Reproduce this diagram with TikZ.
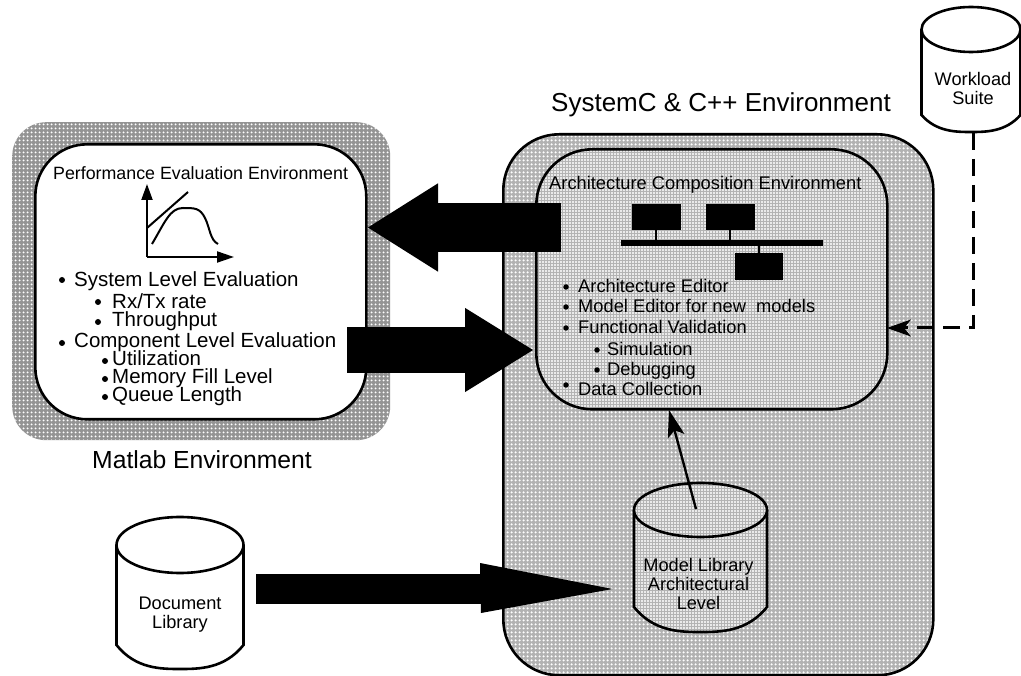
\documentclass[tikz,border=0pt]{standalone}
\usepackage{fontspec}
\setmainfont{Liberation Sans}
\usetikzlibrary{arrows.meta,patterns.meta}
\definecolor{graydark}{gray}{0.58}
\definecolor{graylight}{gray}{0.7}
\newcommand{\fs}[1]{\fontsize{#1}{#1}\selectfont}
\tikzset{
  px/.style={x=1pt,y=-1pt},
  outline/.style={draw=black,line width=2.6pt},
  texdark/.style={preaction={fill=graydark},pattern={Dots[distance=4pt,radius=1.25pt]},pattern color=white},
  texcoarse/.style={preaction={fill=graylight},pattern={Dots[distance=4pt,radius=1.5pt]},pattern color=white},
  texfine/.style={preaction={fill=graylight},pattern={Dots[distance=3pt,radius=1.2pt]},pattern color=white},
  plain/.style={fill=white},
  envbox/.style={outline,rounded corners=#1,inner sep=0pt,anchor=north west},
  chip/.style={fill=black,inner sep=0pt,anchor=north west,minimum width=48.5pt,minimum height=26.5pt},
  thinline/.style={line width=2pt},
  item/.style={inner sep=0pt,anchor=base west,font=\fs{20.5}},
  itemb/.style={inner sep=0pt,anchor=base west,font=\fs{18.3}},
  title/.style={inner sep=0pt,anchor=base west},
  dotb/.style={circle,fill=black,inner sep=0pt,minimum size=#1},
  cyllabel/.style={inner sep=0pt,align=center,font=\fs{18.2}},
}
% name, cx, top, rx, ry, side bottom, body bottom, fill style
\newcommand{\cyl}[8]{%
  \path[outline,#8] (#2-#4,#3+#5) -- (#2-#4,#6)
    .. controls (#2-#4+0.3*#4,#7-0.1) and (#2-0.3*#4,#7) .. (#2,#7)
    .. controls (#2+0.3*#4,#7) and (#2+#4-0.3*#4,#7-0.1) .. (#2+#4,#6) -- (#2+#4,#3+#5);
  \path[outline,#8] (#2,#3+#5) ellipse [x radius=#4,y radius=#5];
  \node[inner sep=0pt] (#1) at (#2,#3+#5) {};
}
\begin{document}
\begin{tikzpicture}[px]
\useasboundingbox (0,0) rectangle (1021,676);
\fill[white] (0,0) rectangle (1021,676);

% Matlab environment
\node[texdark,rounded corners=34pt,inner sep=0pt,anchor=north west,minimum width=378pt,minimum height=318pt] (matlab) at (12,122) {};
\node[envbox=52pt,fill=white,minimum width=331pt,minimum height=275pt] (perf) at (34,143) {};

% SystemC environment
\node[envbox=56pt,texcoarse,minimum width=430pt,minimum height=541pt] (sysc) at (502,133) {};
\node[envbox=56pt,texfine,minimum width=351pt,minimum height=260pt] (arch) at (535,148) {};

% titles
\node[title,font=\fs{17.8}] (perft) at (53,180) {Performance Evaluation Environment};
\node[title,font=\fs{18.3}] (archt) at (549,190) {Architecture Composition Environment};
\node[title,font=\fs{26}] (systitle) at (551,112) {SystemC \& C++ Environment};
\node[title,font=\fs{24.7}] (mattitle) at (92,468) {Matlab Environment};

% chart
\coordinate (ao) at (147,257);
\coordinate (ay) at (147,184);
\coordinate (ax) at (234,257);
\coordinate (l1) at (147,228);
\coordinate (l2) at (188,192);
\draw[line width=2pt,-{Triangle[length=16pt,width=11pt]}] (ao) -- (ay);
\draw[line width=2pt,-{Triangle[length=17pt,width=11pt]}] (ao) -- (ax);
\draw[line width=2pt] (l1) -- (l2);
\draw[line width=2pt] (152,244) .. controls (165,222) and (170,208) .. (183,208)
  .. controls (195,208) and (200,208) .. (205,218)
  .. controls (210,228) and (210,240) .. (218,244);

% left list
\foreach \nm/\bx/\tx/\by/\bl/\txt in {
  a/62/74/280/287/System Level Evaluation,
  b/98/112/302/309/Rx\slash Tx rate,
  c/98/112/322/327/Throughput,
  d/62/74/343/348/Component Level Evaluation,
  e/105/112/361/366/Utilization,
  f/105/112/379/384/Memory Fill Level,
  g/105/112/397/402/Queue Length}{
  \node[dotb=6pt] (dot\nm) at (\bx,\by) {};
  \node[item] (txt\nm) at (\tx,\bl) {\txt};
}

% right list
\foreach \nm/\bx/\tx/\by/\bl/\txt in {
  h/566/578/287/293/Architecture Editor,
  i/566/578/307/313/Model Editor for new\ \ models,
  j/566/578/328/334/Functional Validation,
  k/597/607/350/356/Simulation,
  l/597/607/370/376/Debugging,
  m/566/578/385/396/Data Collection}{
  \node[dotb=5.5pt] (dot\nm) at (\bx,\by) {};
  \node[itemb] (txt\nm) at (\tx,\bl) {\txt};
}

% bus
\node[chip] (c1) at (632,203.5) {};
\node[chip] (c2) at (706,203.5) {};
\node[chip] (c3) at (734.5,253) {};
\node[fill=black,inner sep=0pt,anchor=north west,minimum width=202pt,minimum height=6pt] (bus) at (621,240) {};
\draw[thinline] (c1.south) -- (c1.south |- bus.north);
\draw[thinline] (c2.south) -- (c2.south |- bus.north);
\draw[thinline] (c3.north) -- (c3.north |- bus.south);

% cylinders
\cyl{wl}{971}{7}{49.5}{22.5}{115}{132}{plain}
\node[cyllabel] (wlt) at (973,88) {Workload\\[0.8pt]Suite};
\cyl{dl}{180}{517}{63.5}{28}{645}{669}{plain}
\node[cyllabel] (dlt) at (180,615) {Document\\[0.8pt]Library};
\cyl{ml}{700.5}{483}{66.5}{27}{607}{632}{texfine}
\node[cyllabel] (mlt) at (698.5,584) {Model Library\\[0.8pt]Architectural\\[0.8pt]Level};

% big arrows
\coordinate (a1s) at (561,227.5);
\coordinate (a1e) at (367,227.5);
\coordinate (a2s) at (347,350);
\coordinate (a2e) at (534,350);
\coordinate (a3s) at (256,589);
\coordinate (a3b) at (481,589);
\coordinate (a3e) at (612.5,589);
\draw[line width=48.5pt,-{Triangle[length=71pt,width=83pt]}] (a1s) -- (a1e);
\draw[line width=46pt,-{Triangle[length=69pt,width=79pt]}] (a2s) -- (a2e);
\draw[line width=30pt] (a3s) -- (a3b);
\fill[black] (480,563) -- (a3e) -- (481,613) -- cycle;

% thin connectors
\coordinate (d1) at (973,133);
\coordinate (d2) at (973,328);
\coordinate (d3) at (900,328);
\coordinate (d4) at (887,328);
\draw[line width=3pt,dash pattern=on 17pt off 9pt] (d1) -- (d2) -- (d3);
\draw[line width=2pt,-{Stealth[length=24pt,width=17pt,inset=7pt]}] (d3) -- (d4);
\coordinate (u1) at (696,509);
\coordinate (u2) at (669,410);
\draw[line width=2.4pt,-{Stealth[length=27pt,width=17pt,inset=6pt]}] (u1) -- (u2);
\end{tikzpicture}
\end{document}
